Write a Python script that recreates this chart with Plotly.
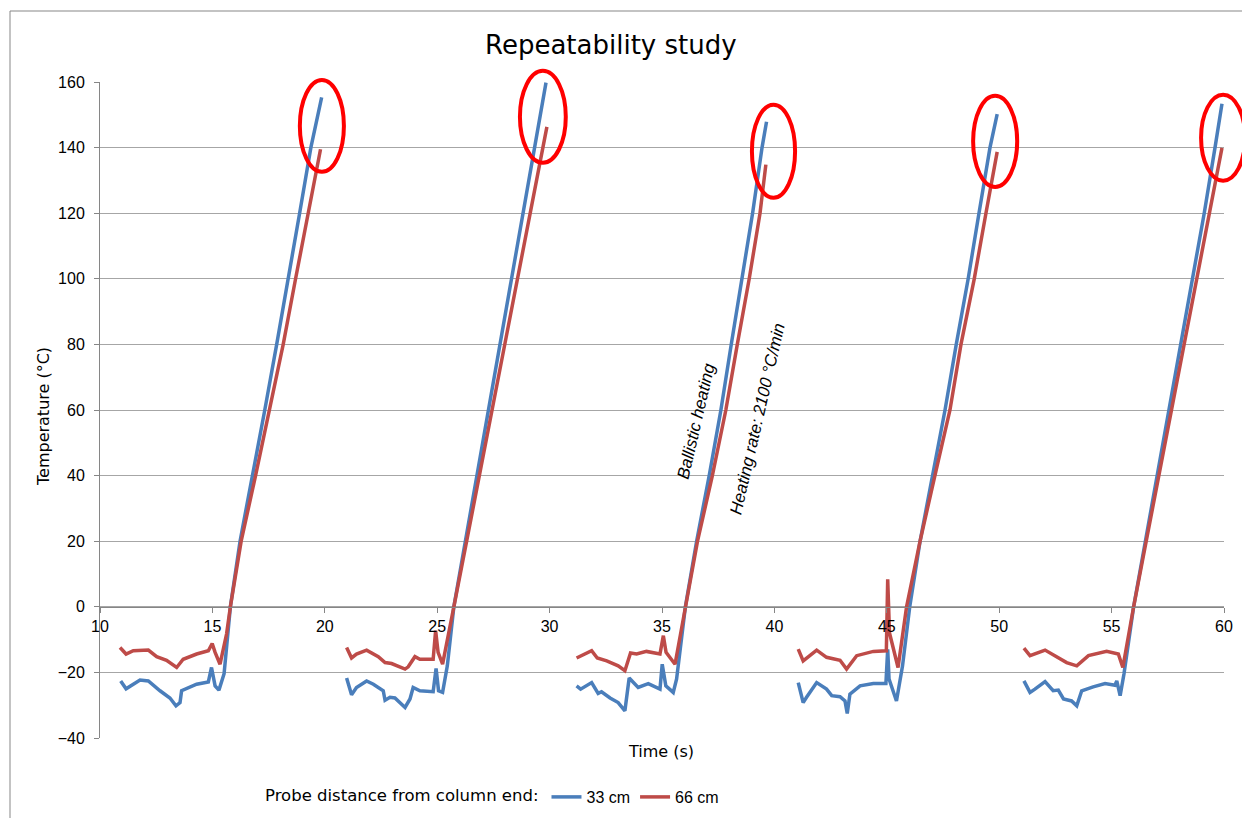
import plotly.graph_objects as go

# Probe at 33 cm from the column end (five heating cycles, gaps between cycles)
time_33 = [
    10.92, 11.16, 11.78, 12.15, 12.67, 13.11, 13.38, 13.56, 13.63, 14.30, 14.82, 14.96, 15.12, 15.29, 15.52,
    15.80, 16.23, 16.79, 17.33, 17.86, 18.38, 18.88, 19.38, 19.86, None,
    20.97, 21.19, 21.41, 21.86, 22.16, 22.60, 22.68, 22.90, 23.12, 23.57, 23.79, 23.93, 24.23, 24.82, 24.95,
    25.06, 25.24, 25.45, 25.74, 26.25, 26.77, 27.29, 27.80, 28.31, 28.83, 29.34, 29.84, None,
    31.20, 31.38, 31.87, 32.16, 32.31, 32.69, 33.05, 33.35, 33.54, 33.94, 34.39, 34.91, 35.01, 35.17, 35.50,
    35.65, 36.04, 36.54, 37.10, 37.62, 38.08, 38.56, 39.03, 39.45, 39.65, None,
    41.06, 41.28, 41.43, 41.88, 42.32, 42.55, 42.92, 43.14, 43.24, 43.36, 43.81, 44.40, 44.96, 45.04, 45.10,
    45.43, 45.70, 46.02, 46.48, 47.04, 47.59, 48.09, 48.62, 49.10, 49.59, 49.91, None,
    51.10, 51.37, 51.59, 52.04, 52.40, 52.63, 52.86, 53.22, 53.45, 53.67, 54.18, 54.71, 55.15, 55.23, 55.38,
    55.55, 55.98, 56.50, 57.02, 57.55, 58.07, 58.60, 59.12, 59.60, 59.91,
]
temp_33 = [
    -22.6, -25.0, -22.3, -22.6, -25.6, -27.8, -30.2, -29.2, -25.6, -23.6, -22.9, -18.5, -24.1, -25.4, -20.4,
    0, 20, 40, 60, 80, 100, 120, 140, 155.3, None,
    -21.7, -26.8, -24.6, -22.6, -23.6, -25.6, -28.5, -27.6, -27.8, -30.7, -28.1, -24.6, -25.6, -25.9, -18.8,
    -25.6, -26.1, -18.0, 0, 20, 40, 60, 80, 100, 120, 140, 159.8, None,
    -24.1, -25.1, -23.1, -26.4, -25.9, -27.8, -29.2, -31.7, -21.7, -24.6, -23.4, -25.1, -17.5, -24.1, -26.1,
    -22.0, 0, 20, 40, 60, 80, 100, 120, 140, 147.9, None,
    -23.1, -29.2, -27.6, -23.1, -25.1, -27.1, -27.4, -28.7, -32.5, -26.6, -24.1, -23.4, -23.4, -13.0, -22.0,
    -28.7, -18.0, 0, 20, 40, 60, 80, 100, 120, 140, 150.2, None,
    -22.6, -26.1, -25.1, -22.8, -25.6, -25.4, -28.1, -28.7, -30.2, -25.6, -24.4, -23.4, -23.9, -22.6, -27.1,
    -20.5, 0, 20, 40, 60, 80, 100, 120, 140, 153.4,
]

# Probe at 66 cm from the column end
time_66 = [
    10.89, 11.16, 11.48, 12.15, 12.52, 12.96, 13.41, 13.70, 14.30, 14.82, 14.99, 15.12, 15.34, 15.63,
    15.80, 16.28, 16.92, 17.55, 18.15, 18.70, 19.25, 19.81, None,
    20.97, 21.19, 21.41, 21.86, 22.38, 22.68, 22.97, 23.57, 23.71, 24.01, 24.23, 24.82, 24.93, 25.04, 25.24,
    25.50, 25.74, 26.31, 26.87, 27.44, 28.00, 28.57, 29.14, 29.70, 29.88, None,
    31.20, 31.87, 32.12, 32.54, 33.05, 33.35, 33.60, 33.87, 34.31, 34.91, 35.06, 35.18, 35.58,
    36.04, 36.58, 37.24, 37.84, 38.35, 38.88, 39.36, 39.62, None,
    41.06, 41.28, 41.88, 42.32, 42.92, 43.21, 43.66, 44.40, 44.98, 45.04, 45.12, 45.22, 45.50,
    45.88, 46.48, 47.14, 47.81, 48.30, 48.89, 49.41, 49.91, None,
    51.10, 51.37, 52.04, 52.48, 53.00, 53.45, 53.97, 54.78, 55.30, 55.50,
    55.98, 56.54, 57.10, 57.67, 58.23, 58.79, 59.35, 59.91,
]
temp_66 = [
    -12.4, -14.4, -13.4, -13.2, -15.2, -16.3, -18.5, -16.0, -14.4, -13.4, -11.2, -13.9, -17.5, -8.3,
    0, 20, 40, 60, 80, 100, 120, 139.5, None,
    -12.4, -15.6, -14.4, -13.2, -15.2, -17.0, -17.3, -19.0, -18.3, -15.2, -16.0, -16.0, -7.3, -13.9, -17.5,
    -8.0, 0, 20, 40, 60, 80, 100, 120, 140, 146.3, None,
    -15.6, -13.4, -15.6, -16.5, -18.0, -19.5, -14.1, -14.4, -13.6, -14.4, -8.8, -13.9, -17.5,
    0, 20, 40, 60, 80, 100, 120, 134.8, None,
    -12.9, -16.5, -13.2, -15.4, -16.3, -19.0, -14.9, -13.6, -13.4, 8.4, -8.0, -11.0, -18.5,
    0, 20, 40, 60, 80, 100, 120, 138.7, None,
    -12.6, -14.9, -13.2, -14.9, -17.0, -18.0, -14.9, -13.6, -14.4, -18.5,
    0, 20, 40, 60, 80, 100, 120, 139.9,
]

series_names = ["33 cm", "66 cm"]
series_colors = ["#4a7ebb", "#be4b48"]

# Peak-temperature highlights: (time centre, temp centre, half-width s, half-height °C)
peak_marks = [
    (19.87, 146.6, 0.98, 14.0),
    (29.70, 149.4, 1.02, 14.0),
    (39.96, 138.9, 0.96, 14.2),
    (49.82, 141.9, 0.98, 13.9),
    (59.96, 143.0, 0.98, 13.1),
]

X_RANGE = [10, 60]
Y_RANGE = [-40, 160]


def to_paper_x(t):
    return (t - X_RANGE[0]) / (X_RANGE[1] - X_RANGE[0])


def to_paper_y(v):
    return (v - Y_RANGE[0]) / (Y_RANGE[1] - Y_RANGE[0])


fig = go.Figure()
for xs, ys, name, color in zip([time_33, time_66], [temp_33, temp_66], series_names, series_colors):
    fig.add_trace(go.Scatter(
        x=xs, y=ys, name=name, mode="lines",
        line=dict(color=color, width=3.5),
        connectgaps=False,
    ))

shapes = []
for tc, vc, hw, hh in peak_marks:
    shapes.append(dict(
        type="circle", xref="paper", yref="paper",
        x0=to_paper_x(tc - hw), x1=to_paper_x(tc + hw),
        y0=to_paper_y(vc - hh), y1=to_paper_y(vc + hh),
        line=dict(color="#ff0000", width=4), layer="above",
    ))

# Outer chart frame
W, H = 1242, 818
ML, MR, MT, MB = 100, 18, 82, 80
PW, PH = W - ML - MR, H - MT - MB
shapes.append(dict(
    type="rect", xref="paper", yref="paper",
    x0=(10 - ML) / PW, x1=(1260 - ML) / PW,
    y0=(H - MB - 840) / PH, y1=(H - MB - 11) / PH,
    line=dict(color="#878787", width=1), fillcolor="rgba(0,0,0,0)", layer="below",
))

axis_font = dict(family="Liberation Sans, Arial, sans-serif", size=16, color="#000000")
label_font = dict(family="DejaVu Sans, Verdana, sans-serif", size=16, color="#000000")
note_font = dict(family="Liberation Sans, Arial, sans-serif", size=17, color="#000000", style="italic")

annotations = [
    dict(text="Repeatability study", xref="paper", yref="paper",
         x=(611 - ML) / PW, y=(H - MB - 45) / PH, showarrow=False,
         xanchor="center", yanchor="middle",
         font=dict(family="DejaVu Sans, Verdana, sans-serif", size=26, color="#000000")),
    dict(text="Temperature (°C)", xref="paper", yref="paper",
         x=(43 - ML) / PW, y=(H - MB - 416) / PH, showarrow=False, textangle=-90,
         xanchor="center", yanchor="middle", font=label_font),
    dict(text="Time (s)", xref="paper", yref="paper",
         x=(661 - ML) / PW, y=(H - MB - 751) / PH, showarrow=False,
         xanchor="center", yanchor="middle", font=label_font),
    dict(text="Ballistic heating", x=36.54, y=56.7, xref="x", yref="y",
         showarrow=False, textangle=-77, font=note_font),
    dict(text="Heating rate: 2100 °C/min", x=39.27, y=57.3, xref="x", yref="y",
         showarrow=False, textangle=-77, font=note_font),
]

fig.update_layout(
    width=W, height=H,
    margin=dict(l=ML, r=MR, t=MT, b=MB, autoexpand=False),
    paper_bgcolor="#ffffff", plot_bgcolor="#ffffff",
    shapes=shapes, annotations=annotations,
    xaxis=dict(
        range=X_RANGE, dtick=5, tick0=10, showgrid=False, zeroline=False,
        showline=True, linecolor="#868686", linewidth=1,
        ticks="outside", ticklen=5, tickcolor="#868686",
        anchor="free", position=to_paper_y(0),
        tickfont=axis_font,
    ),
    yaxis=dict(
        range=Y_RANGE, dtick=20, tick0=0, showgrid=True, gridcolor="#a6a6a6", gridwidth=1,
        zeroline=False, showline=True, linecolor="#868686", linewidth=1,
        ticks="outside", ticklen=5, tickcolor="#868686",
        ticklabelstandoff=6, tickfont=axis_font,
    ),
    legend=dict(
        orientation="h", x=(263 - ML) / PW, y=(H - MB - 797) / PH,
        xanchor="left", yanchor="middle",
        title=dict(text="Probe distance from column end:", side="left",
                   font=dict(family="DejaVu Sans, Verdana, sans-serif", size=16.5, color="#000000")),
        font=axis_font, bgcolor="rgba(0,0,0,0)",
    ),
    showlegend=True,
)

fig.write_html("out.html")
